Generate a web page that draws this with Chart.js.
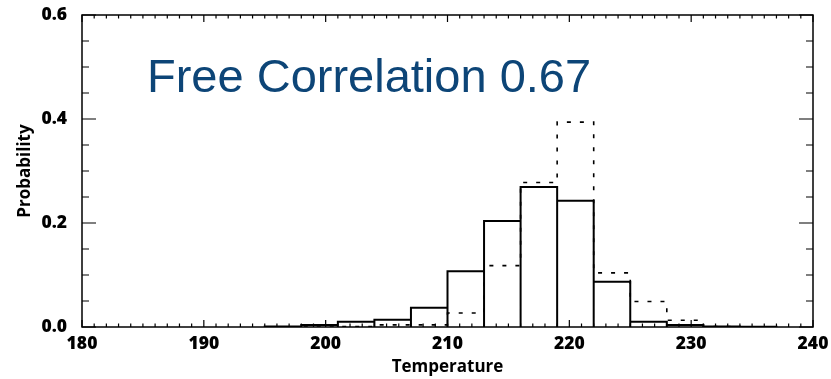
<!DOCTYPE html>
<html>
<head>
<meta charset="utf-8">
<script src="https://cdn.jsdelivr.net/npm/chart.js@4.4.1/dist/chart.umd.min.js"></script>
<style>
  html, body { margin: 0; padding: 0; background: #fff; }
  #wrap { width: 831px; height: 379px; }
</style>
</head>
<body>
<div id="wrap"><canvas id="histo"></canvas></div>
<script>
// histogram bins (left edges, 3 K wide)
const binStarts = [195, 198, 201, 204, 207, 210, 213, 216, 219, 222, 225, 228, 231, 234];
const binWidth = 3;
// solid outline
const solidProb = [0.001, 0.004, 0.010, 0.014, 0.037, 0.107, 0.204, 0.269, 0.243, 0.087, 0.010, 0.004, 0.001, 0.0005];
// dotted step line
const dashedProb = [0, 0, 0.001, 0.004, 0.004, 0.027, 0.118, 0.278, 0.394, 0.104, 0.049, 0.013, 0.001, 0];

const xTicks = [180, 190, 200, 210, 220, 230, 240];
const yTicks = [0.0, 0.2, 0.4, 0.6];
const titleText = 'Free Correlation 0.67';

const tickFont = { family: 'Open Sans', weight: 800, size: 17.5 };
const axisFont = { family: 'Open Sans', weight: 'bold', size: 17 };

// each bin as a closed box sitting on the baseline
const solidPts = [];
binStarts.forEach((s, i) => {
    solidPts.push({ x: s, y: 0 }, { x: s, y: solidProb[i] }, { x: s + binWidth, y: solidProb[i] }, { x: s + binWidth, y: 0 });
});
// plain step outline, no drops to zero
const dashedPts = [];
binStarts.forEach((s, i) => {
    dashedPts.push({ x: s, y: dashedProb[i] }, { x: s + binWidth, y: dashedProb[i] });
});

// frame with inward ticks on all four sides + the big label
const framePlugin = {
    id: 'frame',
    afterDraw(chart) {
        const { ctx, chartArea: a, scales: { x, y } } = chart;
        ctx.save();
        ctx.strokeStyle = '#000';
        ctx.lineWidth = 1.5;
        ctx.strokeRect(a.left, a.top, a.right - a.left, a.bottom - a.top);
        ctx.lineWidth = 1.2;
        ctx.beginPath();
        for (let v = x.min; v <= x.max; v += 1) {
            const px = x.getPixelForValue(v);
            const len = (v % 10 === 0) ? 7 : 3.5;
            ctx.moveTo(px, a.bottom); ctx.lineTo(px, a.bottom - len);
            ctx.moveTo(px, a.top); ctx.lineTo(px, a.top + len);
        }
        for (let k = 0; k <= 12; k++) {
            const py = y.getPixelForValue(k * 0.05);
            const len = (k % 4 === 0) ? 14 : 7;
            ctx.moveTo(a.left, py); ctx.lineTo(a.left + len, py);
            ctx.moveTo(a.right, py); ctx.lineTo(a.right - len, py);
        }
        ctx.stroke();

        ctx.fillStyle = '#0d4577';
        ctx.font = '47px "Liberation Sans", Arial, sans-serif';
        ctx.textBaseline = 'alphabetic';
        ctx.fillText(titleText, a.left + 65, a.top + 77);
        ctx.restore();
    }
};

new Chart(document.getElementById('histo'), {
    type: 'line',
    data: {
        datasets: [
            {
                data: dashedPts,
                borderColor: '#000',
                borderWidth: 1.6,
                borderDash: [4, 9],
                pointRadius: 0,
                fill: false,
                tension: 0
            },
            {
                data: solidPts,
                borderColor: '#000',
                borderWidth: 2,
                pointRadius: 0,
                fill: false,
                tension: 0
            }
        ]
    },
    options: {
        responsive: true,
        maintainAspectRatio: false,
        animation: false,
        layout: { padding: { top: 15, right: 18, left: 0, bottom: 0 } },
        plugins: { legend: { display: false }, tooltip: { enabled: false } },
        scales: {
            x: {
                type: 'linear',
                min: xTicks[0],
                max: xTicks[xTicks.length - 1],
                afterFit: s => { s.height = 52; s.paddingLeft = 0; s.paddingRight = 0; },
                afterBuildTicks: s => { s.ticks = xTicks.map(v => ({ value: v })); },
                grid: { display: false, drawTicks: false },
                border: { display: false },
                ticks: { color: '#000', font: tickFont, padding: 7, maxRotation: 0 },
                title: { display: true, text: 'Temperature', color: '#000', font: axisFont, padding: { top: 0, bottom: 2 } }
            },
            y: {
                min: yTicks[0],
                max: yTicks[yTicks.length - 1],
                afterFit: s => { s.width = 82; s.paddingTop = 0; s.paddingBottom = 0; },
                afterBuildTicks: s => { s.ticks = yTicks.map(v => ({ value: v })); },
                grid: { display: false, drawTicks: false },
                border: { display: false },
                ticks: { color: '#000', font: tickFont, padding: 15, callback: v => v.toFixed(1) },
                title: { display: true, text: 'Probability', color: '#000', font: axisFont, padding: { top: 15 } }
            }
        }
    },
    plugins: [framePlugin]
});
</script>
</body>
</html>
